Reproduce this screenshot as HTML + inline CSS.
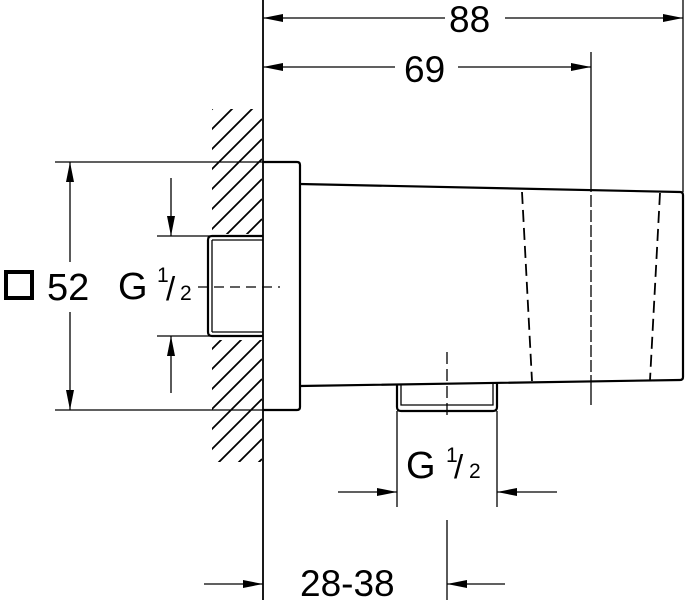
<!DOCTYPE html>
<html><head><style>html,body{margin:0;background:#fff;width:690px;height:605px;overflow:hidden}svg{display:block}text{font-family:"Liberation Sans",sans-serif;fill:#000}</style></head>
<body>
<svg width="690" height="605" viewBox="0 0 690 605" xmlns="http://www.w3.org/2000/svg">
<defs>
<clipPath id="h"><path d="M212 109H262V234H212Z M212 340H262V462H212Z"/></clipPath>
<marker id="a" viewBox="0 0 20 8" refX="20" refY="4" markerWidth="20" markerHeight="8" markerUnits="userSpaceOnUse" orient="auto"><path d="M0 0L20 4L0 8Z" fill="#000"/></marker>
</defs>
<g stroke="#000" fill="none" stroke-width="1.3">
<g clip-path="url(#h)" stroke-width="1.8">
<path d="M150 171L262 59 M150 191L262 79 M150 211L262 99 M150 231L262 119 M150 251L262 139 M150 271L262 159 M150 291L262 179 M150 311L262 199 M150 331L262 219 M150 351L262 239 M150 371L262 259 M150 391L262 279 M150 411L262 299 M150 431L262 319 M150 451L262 339 M150 471L262 359 M150 491L262 379 M150 511L262 399 M150 531L262 419 M150 551L262 439 M150 571L262 459"/>
</g>
<line x1="263" y1="0" x2="263" y2="600" stroke-width="1.8"/>
<line x1="683" y1="0" x2="683" y2="192"/>
<line x1="591" y1="52" x2="591" y2="405"/>
<line x1="55" y1="162" x2="263" y2="162"/>
<line x1="55" y1="410" x2="263" y2="410"/>
<line x1="157" y1="236" x2="210" y2="236"/>
<line x1="157" y1="336" x2="210" y2="336"/>
<line x1="397" y1="411" x2="397" y2="507"/>
<line x1="497" y1="411" x2="497" y2="507"/>
<line x1="447" y1="520" x2="447" y2="600"/>
<g stroke-width="2.2">
<path d="M263 162H297Q300 162 300 165V407Q300 410 297 410H263"/>
<path d="M300 184L680 192Q683 192 683 195V377Q683 380 680 380L300 386"/>
<path d="M397 384V407Q397 411 401 411H493Q497 411 497 407V382"/>
<path d="M401 384V405H493V382" stroke-width="1.3"/>
<path d="M263 236H212Q208 236 208 240V332Q208 336 212 336H263"/>
<path d="M212 240V332" stroke-width="1.3"/>
<path d="M212 240H263 M212 332H263" stroke-width="1.3"/>
</g>
<g stroke-width="1.8" stroke-dasharray="12,6">
<line x1="522" y1="192" x2="532" y2="381"/>
<line x1="660" y1="193" x2="650" y2="380"/>
</g>
<line x1="591" y1="192" x2="591" y2="381" stroke="#fff" stroke-width="2" stroke-dasharray="3,12"/>
<line x1="198" y1="287" x2="280" y2="287" stroke-dasharray="10,6"/>
<line x1="447" y1="352" x2="447" y2="420" stroke-dasharray="12,5"/>
<line x1="445" y1="18" x2="263" y2="18" marker-end="url(#a)"/>
<line x1="505" y1="18" x2="683" y2="18" marker-end="url(#a)"/>
<line x1="395" y1="67" x2="263" y2="67" marker-end="url(#a)"/>
<line x1="458" y1="67" x2="591" y2="67" marker-end="url(#a)"/>
<line x1="70" y1="262" x2="70" y2="162" marker-end="url(#a)"/>
<line x1="70" y1="312" x2="70" y2="410" marker-end="url(#a)"/>
<line x1="171" y1="178" x2="171" y2="236" marker-end="url(#a)"/>
<line x1="171" y1="393" x2="171" y2="336" marker-end="url(#a)"/>
<line x1="338" y1="492" x2="397" y2="492" marker-end="url(#a)"/>
<line x1="557" y1="492" x2="497" y2="492" marker-end="url(#a)"/>
<line x1="204" y1="584" x2="263" y2="584" marker-end="url(#a)"/>
<line x1="505" y1="584" x2="447" y2="584" marker-end="url(#a)"/>
<rect x="6" y="272" width="26" height="26" stroke-width="4"/>
</g>
<text x="449" y="32" font-size="37">88</text>
<text x="404" y="82" font-size="37">69</text>
<text x="47" y="300" font-size="38">52</text>
<text x="118" y="299" font-size="38">G</text>
<text x="157" y="282" font-size="21">1</text>
<text x="166" y="300" font-size="33">/</text>
<text x="180" y="300" font-size="21">2</text>
<text x="406" y="478" font-size="38">G</text>
<text x="446" y="462" font-size="21">1</text>
<text x="454" y="478" font-size="33">/</text>
<text x="469" y="478" font-size="21">2</text>
<text x="300" y="596" font-size="37">28-38</text>
</svg>
</body></html>
